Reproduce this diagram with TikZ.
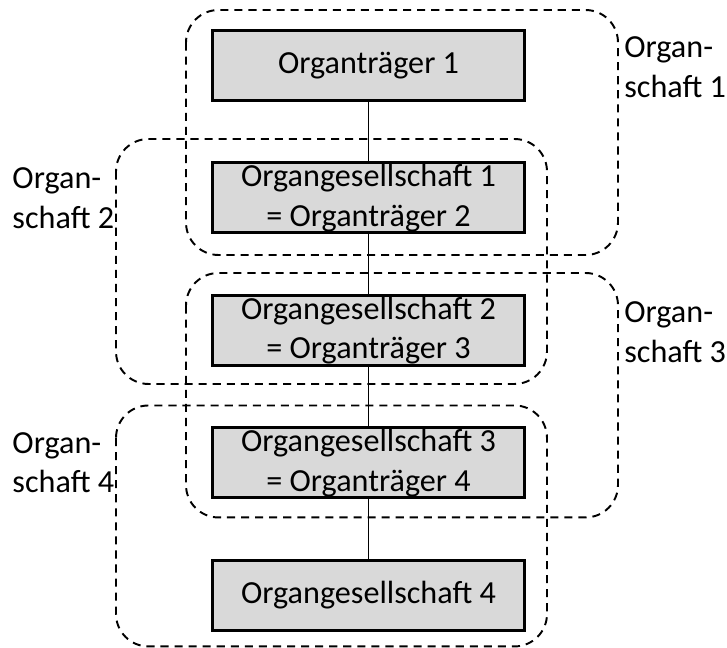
\documentclass[tikz,border=0pt]{standalone}
\usepackage{fontspec}
\setmainfont{Carlito}
\usepackage{tikz}
\usetikzlibrary{positioning}
\usetikzlibrary{calc}
\definecolor{boxgray}{RGB}{217,217,217}
\tikzset{org node/.style={rectangle,draw,fill=boxgray,line width=1.7pt,minimum width=6.24cm,minimum height=1.4cm,inner sep=0pt,align=center,font=\fontsize{18.3}{22.4}\selectfont},
group/.style={draw,line width=1.1pt,dash pattern=on 4.6pt off 3.4pt,rounded corners=0.65cm},
group label/.style={align=left,inner sep=0pt,font=\fontsize{18.3}{22.4}\selectfont},}

\begin{document}
\begin{tikzpicture}[node distance=1.19cm]
    \useasboundingbox (0,0) rectangle (14.54,-12.96);

    \node[org node] (b1) at (7.37,-1.31) {Organträger 1};
    \node[org node] (b2) [below = of b1] {Organgesellschaft 1\\= Organträger 2};
    \node[org node] (b3) [below = of b2] {Organgesellschaft 2\\= Organträger 3};
    \node[org node] (b4) [below = of b3] {Organgesellschaft 3\\= Organträger 4};
    \node[org node] (b5) [below = of b4] {Organgesellschaft 4};

    \path[draw,line width=1pt]
    (b1) edge (b2)
    (b2) edge (b3)
    (b3) edge (b4)
    (b4) edge (b5);

    % Organschaften
    \draw[group] ($(b1.north west)+(-0.5,0.38)$) coordinate (os1) rectangle ($(b2.south east)+(1.84,-0.41)$) coordinate (os1e);
    \draw[group] ($(b2.north west)+(-1.9,0.45)$) coordinate (os2) rectangle ($(b3.south east)+(0.42,-0.34)$);
    \draw[group] ($(b3.north west)+(-0.5,0.42)$) coordinate (os3) rectangle ($(b4.south east)+(1.84,-0.36)$) coordinate (os3e);
    \draw[group] ($(b4.north west)+(-1.9,0.42)$) coordinate (os4) rectangle ($(b5.south east)+(0.42,-0.29)$);

    \node[group label,anchor=north west] (l1) at ($(os1e |- os1)+(0.12,-0.53)$) {Organ-\\schaft 1};
    \node[group label,anchor=north east] (l2) at ($(os2)+(-0.03,-0.57)$) {Organ-\\schaft 2};
    \node[group label,anchor=north west] (l3) at ($(os3e |- os3)+(0.12,-0.57)$) {Organ-\\schaft 3};
    \node[group label,anchor=north east] (l4) at ($(os4)+(-0.03,-0.53)$) {Organ-\\schaft 4};
\end{tikzpicture}
\end{document}
